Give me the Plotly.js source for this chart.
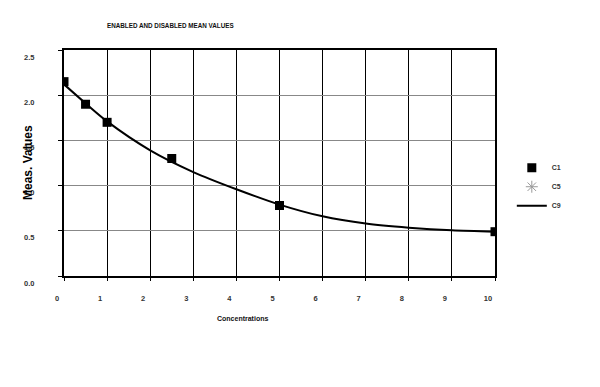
<!DOCTYPE html>
<html>
<head>
<meta charset="utf-8">
<script src="https://cdn.plot.ly/plotly-3.0.1.min.js"></script>
<style>html,body{margin:0;padding:0;background:#fff;}#chart{width:600px;height:387px;}</style>
</head>
<body>
<div id="chart"></div>
<script>
// Measured points (C1)
var c1X = [0, 0.5, 1, 2.5, 5, 10];
var c1Y = [2.15, 1.90, 1.70, 1.30, 0.78, 0.49];
// C5 (no visible points in the plot)
var c5X = [null];
var c5Y = [null];
// Fitted curve (C9)
var c9X = [0, 0.5, 1, 2, 3, 4, 5, 6, 7, 8, 9, 10];
var c9Y = [2.12, 1.91, 1.71, 1.39, 1.15, 0.96, 0.79, 0.66, 0.58, 0.535, 0.505, 0.49];
// Ticks
var xTicks = [0, 1, 2, 3, 4, 5, 6, 7, 8, 9, 10];
var yTicks = [0.0, 0.5, 1.0, 1.5, 2.0, 2.5];
var yTickText = ["0.0", "0.5", "1.0", "1.5", "2.0", "2.5"];

var FAM = "Liberation Sans, Arial, sans-serif";
var tickFont = {family: FAM, size: 7.5, color: "#333", weight: "bold"};

var traces = [
  {x: c9X, y: c9Y, type: "scatter", mode: "lines", name: "C9", legendrank: 3,
   line: {color: "#000", width: 2, shape: "spline", smoothing: 0.8}},
  {x: c1X, y: c1Y, type: "scatter", mode: "markers", name: "C1", legendrank: 1,
   marker: {symbol: "square", size: 9, color: "#000"}},
  {x: c5X, y: c5Y, type: "scatter", mode: "markers", name: "C5", legendrank: 2,
   marker: {symbol: "asterisk-open", size: 10, color: "#999", line: {color: "#999", width: 1}}}
];

var layout = {
  width: 600, height: 387,
  margin: {l: 64, r: 105, t: 50, b: 111},
  paper_bgcolor: "#fff", plot_bgcolor: "#fff",
  showlegend: true,
  legend: {x: 1.039, y: 0.395, xanchor: "left", yanchor: "middle",
           font: {family: FAM, size: 7, color: "#333", weight: "bold"},
           itemwidth: 30, bgcolor: "rgba(0,0,0,0)"},
  xaxis: {range: [0, 10], tickvals: xTicks, ticktext: xTicks.map(String), tickfont: tickFont,
          showgrid: true, gridcolor: "#000", gridwidth: 1, zeroline: false,
          showline: true, linecolor: "#000", linewidth: 2, mirror: true,
          ticks: "outside", ticklen: 3, tickcolor: "#000", ticklabelstandoff: 11, ticklabelshift: -7,
          fixedrange: true},
  yaxis: {range: [0, 2.5], tickvals: yTicks, ticktext: yTickText, tickfont: tickFont,
          showgrid: true, gridcolor: "#888", gridwidth: 1, zeroline: false,
          showline: true, linecolor: "#000", linewidth: 2, mirror: true,
          ticks: "outside", ticklen: 4, tickcolor: "#000", ticklabelstandoff: 22, ticklabelshift: 7,
          fixedrange: true},
  annotations: [
    {text: "ENABLED AND DISABLED MEAN VALUES", xref: "paper", yref: "paper", x: 0.095, y: 1.0, yshift: 25,
     xanchor: "left", yanchor: "middle", showarrow: false,
     font: {family: FAM, size: 6.3, color: "#111", weight: "bold"}},
    {text: "Concentrations", xref: "paper", yref: "paper", x: 0.413, y: 0, yshift: -42,
     xanchor: "center", yanchor: "middle", showarrow: false,
     font: {family: FAM, size: 7, color: "#111", weight: "bold"}},
    {text: "Meas. Values", xref: "paper", yref: "paper", x: -0.0835, y: 0.5,
     xanchor: "center", yanchor: "middle", showarrow: false, textangle: -90,
     font: {family: FAM, size: 12, color: "#000", weight: "bold"}}
  ]
};

Plotly.newPlot("chart", traces, layout, {displayModeBar: false, staticPlot: true});
</script>
</body>
</html>
